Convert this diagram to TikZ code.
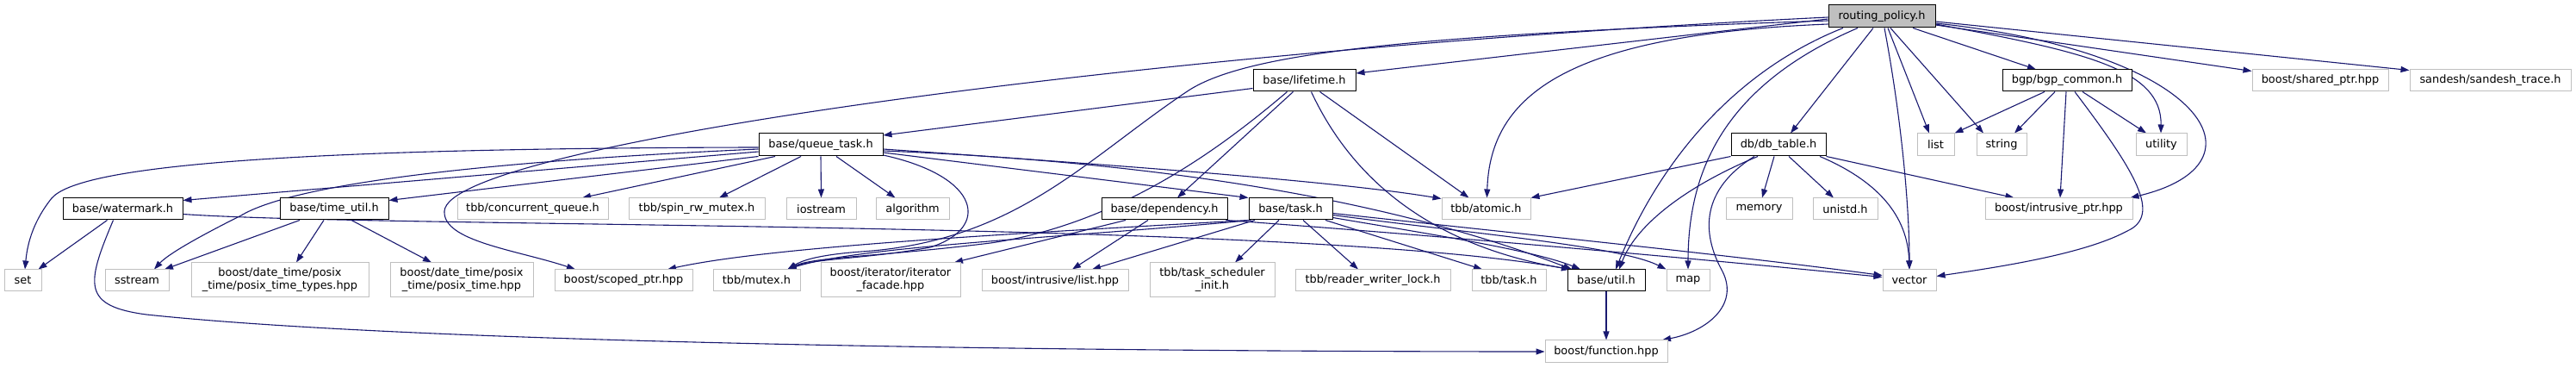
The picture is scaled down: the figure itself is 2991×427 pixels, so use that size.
\documentclass[tikz,border=0pt]{standalone}
\usepackage{fontspec}
\setmainfont{DejaVu Sans}
\usetikzlibrary{arrows.meta}
\definecolor{edgeblue}{HTML}{191970}
\definecolor{extgrey}{HTML}{BFBFBF}
\pgfdeclarelayer{bg}
\pgfdeclarelayer{paper}
\pgfsetlayers{paper,bg,main}
\tikzset{
  box/.style={rectangle, inner sep=0pt, align=center, line width=1pt, fill=white,
    font=\fontsize{12.9}{15}\selectfont},
  hdr/.style={box, draw=black},
  ext/.style={box, draw=extgrey},
  root/.style={box, draw=black, fill=extgrey},
  edge/.style={draw=edgeblue, line width=1.1pt, -{Triangle[length=10pt,width=7pt]}},
}
\begin{document}
\begin{tikzpicture}[x=1pt,y=-1pt]
\begin{pgfonlayer}{paper}
\fill[white] (0,0) rectangle (2991,427);
\end{pgfonlayer}
\useasboundingbox (0,0) rectangle (2991,427);
% row 1
\node[root, minimum width=124pt, minimum height=26pt] (rp) at (2185,19) {routing\_policy.h};
% row 2
\node[hdr, minimum width=119pt, minimum height=25pt] (lifetime) at (1514.5,93.5) {base/lifetime.h};
\node[hdr, minimum width=150pt, minimum height=25pt] (bgpc) at (2400,93.5) {bgp/bgp\_common.h};
\node[ext, minimum width=158pt, minimum height=25pt] (shptr) at (2694,93.5) {boost/shared\_ptr.hpp};
\node[ext, minimum width=187pt, minimum height=25pt] (sandesh) at (2891.5,93.5) {sandesh/sandesh\_trace.h};
% row 3
\node[hdr, minimum width=144pt, minimum height=26pt] (qt) at (953,168) {base/queue\_task.h};
\node[hdr, minimum width=110pt, minimum height=26pt] (dbt) at (2065,168) {db/db\_table.h};
\node[ext, minimum width=43pt, minimum height=26pt] (list) at (2247.5,168) {list};
\node[ext, minimum width=58pt, minimum height=26pt] (string) at (2324,168) {string};
\node[ext, minimum width=59pt, minimum height=26pt] (utility) at (2509.5,168) {utility};
% row 4
\node[hdr, minimum width=139pt, minimum height=25pt] (watermark) at (142.5,242.5) {base/watermark.h};
\node[hdr, minimum width=126pt, minimum height=25pt] (timeutil) at (388,242.5) {base/time\_util.h};
\node[ext, minimum width=175pt, minimum height=25pt] (cqueue) at (618.5,242.5) {tbb/concurrent\_queue.h};
\node[ext, minimum width=158pt, minimum height=25pt] (spinrw) at (809,242.5) {tbb/spin\_rw\_mutex.h};
\node[ext, minimum width=81pt, minimum height=25pt] (iostream) at (953.5,242.5) {iostream};
\node[ext, minimum width=85pt, minimum height=25pt] (algorithm) at (1059.5,242.5) {algorithm};
\node[hdr, minimum width=146pt, minimum height=25pt] (dependency) at (1352,242.5) {base/dependency.h};
\node[hdr, minimum width=97pt, minimum height=25pt] (task) at (1498.5,242.5) {base/task.h};
\node[ext, minimum width=103pt, minimum height=25pt] (atomic) at (1725.5,242.5) {tbb/atomic.h};
\node[ext, minimum width=77pt, minimum height=25pt] (memory) at (2042.5,242.5) {memory};
\node[ext, minimum width=75pt, minimum height=25pt] (unistd) at (2142.5,242.5) {unistd.h};
\node[ext, minimum width=171pt, minimum height=25pt] (iptr) at (2390.5,242.5) {boost/intrusive\_ptr.hpp};
% row 5
\node[ext, minimum width=43pt, minimum height=25pt] (set) at (26.5,325.5) {set};
\node[ext, minimum width=74pt, minimum height=25pt] (sstream) at (159,325.5) {sstream};
\node[ext, minimum width=206pt, minimum height=40pt] (ptypes) at (325,325) {boost/date\_time/posix\\\_time/posix\_time\_types.hpp};
\node[ext, minimum width=166pt, minimum height=40pt] (ptime) at (536,325) {boost/date\_time/posix\\\_time/posix\_time.hpp};
\node[ext, minimum width=160pt, minimum height=25pt] (scoped) at (724,325.5) {boost/scoped\_ptr.hpp};
\node[ext, minimum width=101pt, minimum height=25pt] (mutex) at (878.5,325.5) {tbb/mutex.h};
\node[ext, minimum width=162pt, minimum height=40pt] (facade) at (1034,325) {boost/iterator/iterator\\\_facade.hpp};
\node[ext, minimum width=170pt, minimum height=25pt] (ilist) at (1225,325.5) {boost/intrusive/list.hpp};
\node[ext, minimum width=145pt, minimum height=40pt] (tsinit) at (1407.5,325) {tbb/task\_scheduler\\\_init.h};
\node[ext, minimum width=180pt, minimum height=25pt] (rwlock) at (1594,325.5) {tbb/reader\_writer\_lock.h};
\node[ext, minimum width=86pt, minimum height=25pt] (ttask) at (1752,325.5) {tbb/task.h};
\node[hdr, minimum width=90pt, minimum height=25pt] (util) at (1865,325.5) {base/util.h};
\node[ext, minimum width=50pt, minimum height=25pt] (map) at (1960,325.5) {map};
\node[ext, minimum width=62pt, minimum height=25pt] (vector) at (2217,325.5) {vector};
% row 6
\node[ext, minimum width=142pt, minimum height=26pt] (function) at (1865,408) {boost/function.hpp};

\begin{pgfonlayer}{bg}
% routing_policy.h
\draw[edge] ([yshift=-3pt]rp.west) -- ([yshift=8.5pt]lifetime.east);
\draw[edge] ([yshift=-1pt]rp.west) .. controls (1300,60) and (520,170) .. (516,245) .. controls (514,280) and (600,290) .. ([xshift=-56pt]scoped.north);
\draw[edge] ([yshift=-5pt]rp.west) .. controls (1650,40) and (1450,60) .. (1380,105) .. controls (1260,185) and (1180,280) .. (1000,292) .. controls (960,295) and (935,300) .. ([xshift=36pt]mutex.north);
\draw[edge] ([yshift=-9pt]rp.west) .. controls (1820,40) and (1730,110) .. ([xshift=1pt]atomic.north);
\draw[edge] ([xshift=-45pt]rp.south) .. controls (2020,80) and (1930,180) .. ([xshift=11pt]util.north);
\draw[edge] ([xshift=-28pt]rp.south) .. controls (2000,100) and (1960,200) .. (map.north);
\draw[edge] ([xshift=-10pt]rp.south) -- ([xshift=14pt]dbt.north);
\draw[edge] ([xshift=3pt]rp.south) .. controls (2210,150) and (2217,250) .. (vector.north);
\draw[edge] ([xshift=7pt]rp.south) -- ([xshift=-7.5pt]list.north);
\draw[edge] ([xshift=10pt]rp.south) -- ([xshift=-21pt]string.north);
\draw[edge] ([xshift=36pt]rp.south) -- ([xshift=-36pt]bgpc.north);
\draw[edge] ([yshift=-9pt]rp.east) .. controls (2420,60) and (2510,80) .. ([xshift=-0.5pt]utility.north);
\draw[edge] ([yshift=-8pt]rp.east) .. controls (2560,60) and (2640,190) .. ([xshift=-3pt]iptr.north east);
\draw[edge] ([yshift=-10pt]rp.east) -- ([yshift=-2pt]shptr.north west);
\draw[edge] ([yshift=-6pt]rp.east) -- ([yshift=-1pt]sandesh.north west);
% bgp_common.h
\draw[edge] ([xshift=-26pt]bgpc.south) -- (list.north east);
\draw[edge] ([xshift=-14pt]bgpc.south) -- ([xshift=15pt]string.north);
\draw[edge] ([xshift=-1pt]bgpc.south) -- ([xshift=1.5pt]iptr.north);
\draw[edge] ([xshift=18pt]bgpc.south) -- ([xshift=-17.5pt]utility.north);
\draw[edge] ([xshift=9pt]bgpc.south) .. controls (2480,200) and (2510,250) .. (2470,268) .. controls (2420,295) and (2320,310) .. ([yshift=5pt]vector.east);
% db_table.h
\draw[edge] (dbt.south west) -- (atomic.north east);
\draw[edge] ([xshift=-24pt]dbt.south) .. controls (1960,215) and (1900,260) .. ([xshift=15pt]util.north);
\draw[edge] ([xshift=-28pt]dbt.south) .. controls (1975,220) and (1975,270) .. (2000,315) .. controls (2020,355) and (1980,385) .. ([xshift=65pt]function.north);
\draw[edge] ([xshift=-5pt]dbt.south) -- ([xshift=3.5pt]memory.north);
\draw[edge] ([xshift=12pt]dbt.south) -- ([xshift=-13.5pt]unistd.north);
\draw[edge] ([xshift=48pt]dbt.south) .. controls (2180,210) and (2215,250) .. (vector.north);
\draw[edge] (dbt.south east) -- ([xshift=-52pt]iptr.north);
% lifetime.h
\draw[edge] ([yshift=-9pt]lifetime.west) -- ([yshift=11pt]qt.east);
\draw[edge] ([xshift=-20pt]lifetime.south) .. controls (1420,170) and (1300,260) .. (1150,282) .. controls (1020,298) and (945,298) .. ([xshift=36pt]mutex.north);
\draw[edge] ([xshift=-13pt]lifetime.south) -- ([xshift=15pt]dependency.north);
\draw[edge] ([xshift=8pt]lifetime.south) .. controls (1580,230) and (1690,290) .. ([xshift=-42pt]util.north);
\draw[edge] ([xshift=18pt]lifetime.south) -- ([xshift=-20pt]atomic.north);
% queue_task.h
\draw[edge] ([yshift=-3pt]qt.west) .. controls (300,172) and (90,195) .. (60,230) .. controls (40,255) and (32,280) .. ([xshift=2.5pt]set.north);
\draw[edge] ([yshift=-5pt]qt.west) .. controls (500,190) and (330,220) .. (280,250) .. controls (230,275) and (195,295) .. ([xshift=20pt]sstream.north);
\draw[edge] ([yshift=-8pt]qt.west) -- ([yshift=10pt]watermark.east);
\draw[edge] (qt.south west) -- ([yshift=10pt]timeutil.east);
\draw[edge] ([xshift=-53pt]qt.south) -- ([xshift=57.5pt]cqueue.north);
\draw[edge] ([xshift=-23pt]qt.south) -- ([xshift=26pt]spinrw.north);
\draw[edge] (qt.south) -- (iostream.north);
\draw[edge] ([xshift=18pt]qt.south) -- ([xshift=-20pt]algorithm.north);
\draw[edge] ([yshift=-12pt]qt.east) .. controls (1140,205) and (1150,265) .. (1080,287) .. controls (1010,300) and (945,300) .. ([xshift=36pt]mutex.north);
\draw[edge] ([yshift=-9pt]qt.east) -- (task.north west);
\draw[edge] ([yshift=-5pt]qt.east) .. controls (1300,192) and (1550,210) .. ([yshift=-1pt]atomic.north west);
\draw[edge] ([yshift=-7pt]qt.east) .. controls (1400,190) and (1650,245) .. ([xshift=-40pt]util.north);
% watermark.h
\draw[edge] ([xshift=-18pt]watermark.south) -- ([xshift=18pt]set.north);
\draw[edge] ([xshift=-11pt]watermark.south) .. controls (100,330) and (95,355) .. (170,365) .. controls (500,400) and (1300,408) .. (function.west);
\draw[edge] ([yshift=-6pt]watermark.east) .. controls (450,265) and (1500,255) .. ([xshift=-42pt]util.north);
% time_util.h
\draw[edge] ([xshift=-40pt]timeutil.south) -- ([xshift=32pt]sstream.north);
\draw[edge] ([xshift=-12pt]timeutil.south) -- ([xshift=19pt]ptypes.north);
\draw[edge] ([xshift=20pt]timeutil.south) -- ([xshift=-35pt]ptime.north);
% dependency.h
\draw[edge] ([xshift=-45pt]dependency.south) -- ([xshift=74pt]facade.north);
\draw[edge] ([xshift=-19pt]dependency.south) -- ([xshift=20pt]ilist.north);
\draw[edge] ([xshift=-2pt]dependency.south east) .. controls (1650,272) and (1950,298) .. ([yshift=4pt]vector.west);
% task.h
\draw[edge] (task.south west) .. controls (1200,270) and (900,285) .. ([xshift=51pt]scoped.north);
\draw[edge] ([xshift=3pt]task.south west) .. controls (1250,275) and (1000,285) .. ([xshift=36pt]mutex.north);
\draw[edge] ([xshift=-41.5pt]task.south) -- ([xshift=43pt]ilist.north);
\draw[edge] ([xshift=-13.5pt]task.south) -- ([xshift=26.5pt]tsinit.north);
\draw[edge] ([xshift=14.5pt]task.south) -- ([xshift=-17pt]rwlock.north);
\draw[edge] ([xshift=40.5pt]task.south) -- ([xshift=-31pt]ttask.north);
\draw[edge] ([yshift=-10pt]task.east) .. controls (1650,270) and (1780,290) .. ([xshift=-30pt]util.north);
\draw[edge] ([yshift=-7pt]task.east) .. controls (1700,270) and (1880,285) .. (map.north west);
\draw[edge] ([yshift=-5pt]task.east) .. controls (1800,275) and (2000,295) .. ([yshift=6pt]vector.west);
% util.h
\draw[edge] (util.south) -- (function.north);
\end{pgfonlayer}
\end{tikzpicture}
\end{document}
